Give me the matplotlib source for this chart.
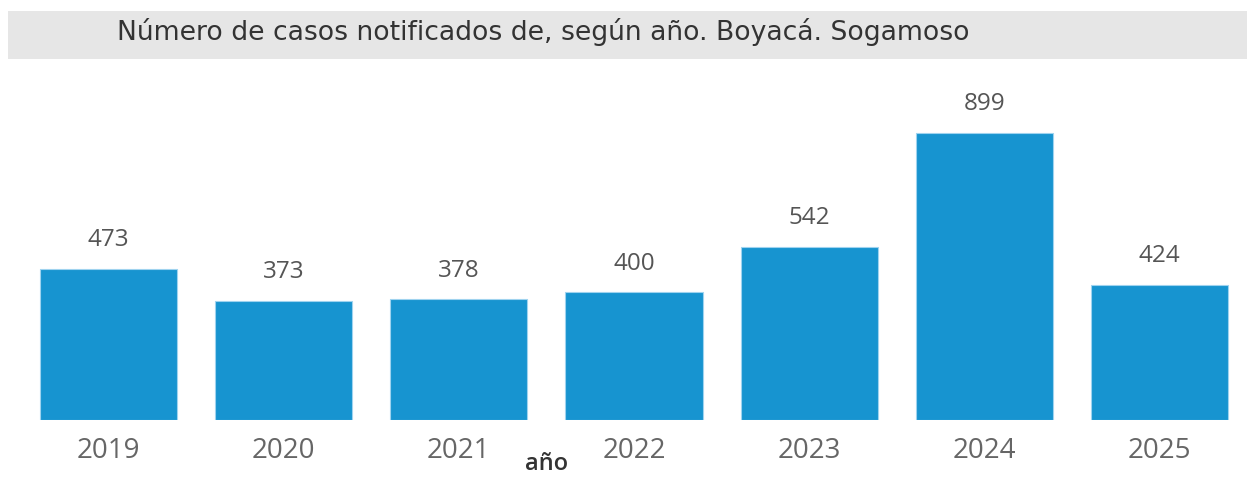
import matplotlib
matplotlib.use("Agg")
import matplotlib.pyplot as plt
from matplotlib.patches import Rectangle

years = ["2019", "2020", "2021", "2022", "2023", "2024", "2025"]
cases = [473, 373, 378, 400, 542, 899, 424]
title = "Número de casos notificados de, según año. Boyacá. Sogamoso"
xlabel = "año"

W, H = 1247, 490
fig = plt.figure(figsize=(W / 100, H / 100), dpi=100)
fig.patch.set_facecolor("white")

# title band
fig.patches.append(Rectangle((8 / W, 1 - 59 / H), 1 - 8 / W, 48 / H,
                             transform=fig.transFigure, facecolor="#e6e6e6",
                             edgecolor="none", zorder=0))
fig.text(117 / W, 1 - 39.5 / H, title, ha="left", va="baseline",
         fontsize=19.2, color="#333333", family="DejaVu Sans")

ax = fig.add_axes([21 / W, 70 / H, 1226 / W, 319.2 / H])
x = list(range(len(years)))
bars = ax.bar(x, cases, width=0.783, color="#1794d0", edgecolor="#9fd3ef",
              linewidth=0.8)
ax.set_xlim(-0.5, len(years) - 0.5)
ax.set_ylim(0, 1000)
for xi, v in zip(x, cases):
    ax.annotate(str(v), (xi, v), xytext=(0, 12), textcoords="offset points",
                ha="center", va="bottom", fontsize=17.5, color="#555555",
                family="Open Sans")
ax.set_xticks(x)
ax.set_xticklabels(years, fontsize=20, color="#666666", family="Open Sans")
ax.tick_params(axis="x", length=0, pad=12)
ax.set_yticks([])
for s in ax.spines.values():
    s.set_visible(False)
ax.patch.set_alpha(0)
fig.text(547 / W, 1 - 464 / H, xlabel, ha="center", va="center",
         fontsize=17, color="#333333", family="Open Sans", fontweight="semibold")

fig.savefig("out.png", dpi=100)
